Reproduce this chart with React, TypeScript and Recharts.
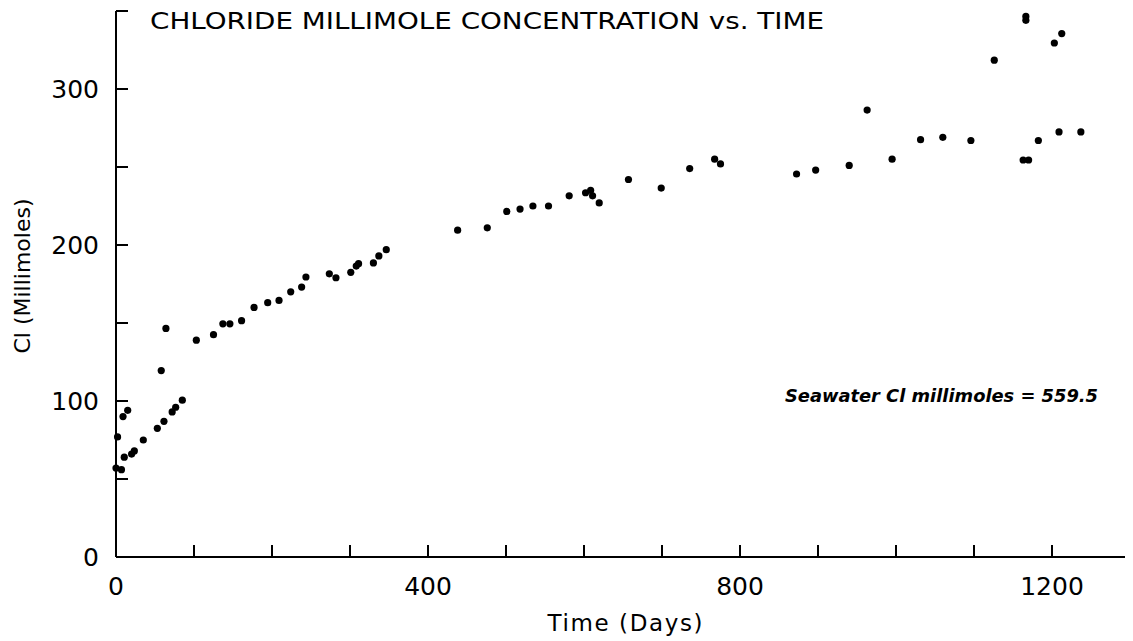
import React from "react";
import { ScatterChart, Scatter, XAxis, YAxis } from "recharts";

// time in days and Cl concentration (millimoles)
const days = [
  0, 7, 2, 9, 15, 10.6, 20, 23.5, 35, 53, 58, 61.5, 64, 72, 76.5, 85,
  103, 125, 137, 146, 161, 177, 194.5, 209, 224, 238, 243.5, 273.5, 282, 301,
  308, 311, 330, 337, 346.5,
  438, 476, 501, 518, 534.5, 554.5, 581, 602, 608.5, 611, 619.5, 657, 699,
  735.5, 767.5, 775, 872.5, 897, 940, 963, 995, 1031.5, 1060, 1096, 1126,
  1163, 1170, 1166.5, 1166.5, 1182.5, 1203, 1212.5, 1209, 1237,
];
const chloride = [
  57, 56, 77, 90, 94, 64, 66, 68, 75, 82.5, 119.5, 87, 146.5, 93, 96, 100.5,
  139, 142.5, 149.5, 149.5, 151.5, 160, 163, 164.5, 170, 173, 179.5, 181.5, 179, 182.5,
  186.5, 188, 188.5, 193, 197,
  209.5, 211, 221.5, 223, 225, 225, 231.5, 233.5, 235, 231.5, 227, 242, 236.5,
  249, 255, 252, 245.5, 248, 251, 286.5, 255, 267.5, 269, 267, 318.5,
  254.5, 254.5, 346.5, 344, 267, 329.5, 335.5, 272.5, 272.5,
];

const xTicks = [0, 100, 200, 300, 400, 500, 600, 700, 800, 900, 1000, 1100, 1200];
const xLabels = [0, 400, 800, 1200];
const yTicks = [0, 50, 100, 150, 200, 250, 300, 350];
const yLabels = [0, 100, 200, 300];

const data = days.map((d, i) => ({ day: d, cl: chloride[i] }));

const FONT = "'DejaVu Sans', sans-serif";

const XTick = (props: any) => {
  const { x, y, payload } = props;
  return (
    <g>
      <line x1={x} x2={x} y1={y} y2={y - 12} stroke="#000" strokeWidth={2} />
      {xLabels.includes(payload.value) && (
        <text x={x} y={y + 38} textAnchor="middle" fontSize={25} fontFamily={FONT} fill="#000">
          {payload.value}
        </text>
      )}
    </g>
  );
};

const YTick = (props: any) => {
  const { x, y, payload } = props;
  return (
    <g>
      <line x1={x} x2={x + 12} y1={y} y2={y} stroke="#000" strokeWidth={2} />
      {yLabels.includes(payload.value) && (
        <text x={x - 17} y={y + 9} textAnchor="end" fontSize={25} fontFamily={FONT} fill="#000">
          {payload.value}
        </text>
      )}
    </g>
  );
};

const Dot = (props: any) => <circle cx={props.cx} cy={props.cy} r={3.6} fill="#000" />;

export default function App() {
  return (
    <div style={{ position: "relative", width: 1125, height: 633, background: "#fff" }}>
      <ScatterChart width={1125} height={633} margin={{ top: 3, right: 3, left: 0, bottom: 0 }}>
        <XAxis
          type="number"
          dataKey="day"
          domain={[0, 1300]}
          ticks={xTicks}
          interval={0}
          height={84}
          tickSize={0}
          tickMargin={0}
          tickLine={false}
          axisLine={{ stroke: "#000", strokeWidth: 2 }}
          tick={<XTick />}
        />
        <YAxis
          type="number"
          dataKey="cl"
          domain={[0, 350]}
          ticks={yTicks}
          interval={0}
          width={108}
          tickSize={0}
          tickMargin={0}
          tickLine={false}
          axisLine={{ stroke: "#000", strokeWidth: 2 }}
          tick={<YTick />}
        />
        <Scatter data={data} fill="#000" shape={<Dot />} isAnimationActive={false} />
      </ScatterChart>
      <svg
        width={1125}
        height={633}
        style={{ position: "absolute", left: 0, top: 0, pointerEvents: "none" }}
      >
        <text x={142} y={21} fontSize={23} fontFamily={FONT} textLength={674} lengthAdjust="spacingAndGlyphs" fill="#000">
          CHLORIDE MILLIMOLE CONCENTRATION vs. TIME
        </text>
        <text
          x={14}
          y={268}
          transform="rotate(-90 14 268)"
          textAnchor="middle"
          dominantBaseline="central"
          fontSize={22}
          fontFamily={FONT}
          textLength={155}
          lengthAdjust="spacingAndGlyphs"
          fill="#000"
        >
          Cl (Millimoles)
        </text>
        <text
          x={617}
          y={623}
          textAnchor="middle"
          fontSize={23}
          fontFamily={FONT}
          textLength={155}
          lengthAdjust="spacing"
          fill="#000"
        >
          Time (Days)
        </text>
        <text
          x={777}
          y={394}
          fontSize={18}
          fontStyle="italic"
          fontWeight="bold"
          fontFamily={FONT}
          textLength={313}
          lengthAdjust="spacingAndGlyphs"
          fill="#000"
        >
          Seawater Cl millimoles = 559.5
        </text>
      </svg>
    </div>
  );
}
